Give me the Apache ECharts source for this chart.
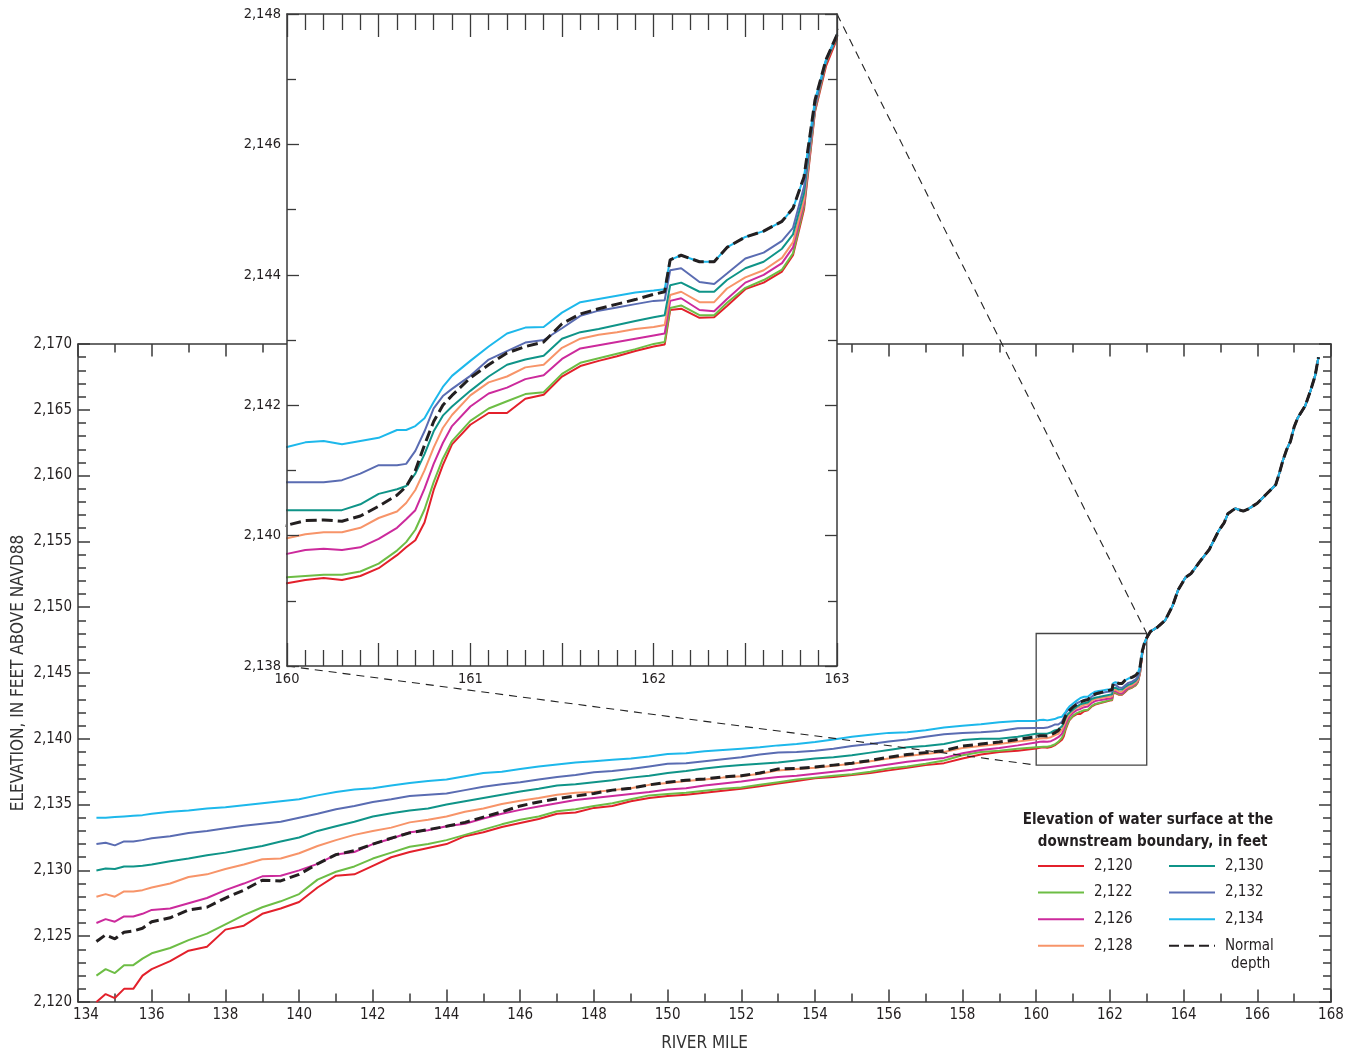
<!DOCTYPE html>
<html>
<head>
<meta charset="utf-8">
<script src="https://cdn.jsdelivr.net/npm/echarts@6/dist/echarts.min.js"></script>
<style>
html, body { margin: 0; padding: 0; background: #fff; }
#chart { width: 1358px; height: 1055px; }
</style>
</head>
<body>
<div id="chart"></div>
<script>
// River miles where the water-surface profiles are sampled (downstream reach and the detailed reach 160-163)
const milesLower = [
  134.5, 134.75, 135, 135.25, 135.5, 135.75, 136, 136.5, 137, 137.5,
  138, 138.5, 139, 139.5, 140, 140.5, 141, 141.5, 142, 142.5,
  143, 143.5, 144, 144.5, 145, 145.5, 146, 146.5, 147, 147.5,
  148, 148.5, 149, 149.5, 150, 150.5, 151, 151.5, 152, 152.5,
  153, 153.5, 154, 154.5, 155, 155.5, 156, 156.5, 157, 157.5,
  158, 158.5, 159, 159.5, 160,
  160.1, 160.2, 160.3, 160.4, 160.5, 160.6, 160.65, 160.7, 160.75, 160.8,
  160.85, 160.9, 161.0, 161.1, 161.2, 161.3, 161.4, 161.5, 161.6, 161.7,
  161.8, 161.9, 162.0, 162.06, 162.09, 162.15, 162.25, 162.33, 162.4, 162.5,
  162.6, 162.7, 162.76, 162.82, 162.88, 162.94, 163.0
];

// Water-surface elevation (feet) for each downstream boundary elevation
const elev2120 = [
  2120.0, 2120.6, 2120.3, 2121.0, 2121.0, 2122.0, 2122.5, 2123.1, 2123.9, 2124.2,
  2125.5, 2125.8, 2126.7, 2127.1, 2127.6, 2128.7, 2129.6, 2129.7, 2130.35, 2131.0,
  2131.4, 2131.7, 2132.0, 2132.6, 2132.9, 2133.3, 2133.6, 2133.9, 2134.3, 2134.4,
  2134.75, 2134.9, 2135.25, 2135.5, 2135.65, 2135.75, 2135.9, 2136.05, 2136.2, 2136.4,
  2136.6, 2136.8, 2137.0, 2137.1, 2137.25, 2137.4, 2137.6, 2137.8, 2138.0, 2138.15,
  2138.5, 2138.8, 2139.0, 2139.1, 2139.27,
  2139.32, 2139.35, 2139.32, 2139.38, 2139.5, 2139.7, 2139.82, 2139.93, 2140.2, 2140.7,
  2141.08, 2141.4, 2141.7, 2141.88, 2141.88, 2142.1, 2142.16, 2142.44, 2142.6, 2142.68,
  2142.75, 2142.83, 2142.9, 2142.93, 2143.46, 2143.48, 2143.34, 2143.35, 2143.52, 2143.78,
  2143.88, 2144.05, 2144.3, 2145.0, 2146.5, 2147.2, 2147.62
];
const elev2122 = [
  2122.0, 2122.5, 2122.2, 2122.8, 2122.8, 2123.3, 2123.7, 2124.1, 2124.7, 2125.2,
  2125.9, 2126.6, 2127.2, 2127.65, 2128.2, 2129.3, 2129.9, 2130.3, 2130.9, 2131.35,
  2131.8, 2132.0, 2132.3, 2132.7, 2133.1, 2133.5, 2133.85, 2134.1, 2134.5, 2134.65,
  2134.9, 2135.1, 2135.4, 2135.7, 2135.8, 2135.9, 2136.05, 2136.2, 2136.3, 2136.5,
  2136.7, 2136.9, 2137.05, 2137.2, 2137.3, 2137.5, 2137.75, 2137.9, 2138.1, 2138.35,
  2138.75, 2139.0, 2139.1, 2139.25, 2139.36,
  2139.38, 2139.4, 2139.4, 2139.45, 2139.57, 2139.77, 2139.9, 2140.09, 2140.4, 2140.82,
  2141.18, 2141.45, 2141.76, 2141.95, 2142.06, 2142.17, 2142.2, 2142.48, 2142.65, 2142.72,
  2142.79, 2142.86, 2142.94, 2142.97, 2143.49, 2143.53, 2143.38, 2143.38, 2143.57, 2143.8,
  2143.92, 2144.08, 2144.33, 2145.05, 2146.52, 2147.25, 2147.65
];
const elev2126 = [
  2126.0, 2126.3, 2126.1, 2126.5, 2126.5, 2126.7, 2127.0, 2127.1, 2127.5, 2127.9,
  2128.5, 2129.0, 2129.55, 2129.6, 2130.0, 2130.5, 2131.2, 2131.4, 2132.0, 2132.4,
  2132.9, 2133.05, 2133.35, 2133.55, 2133.95, 2134.3, 2134.6, 2134.85, 2135.1, 2135.35,
  2135.5, 2135.65, 2135.8, 2135.95, 2136.15, 2136.25, 2136.45, 2136.6, 2136.75, 2136.95,
  2137.1, 2137.2, 2137.35, 2137.5, 2137.65, 2137.85, 2138.05, 2138.25, 2138.4, 2138.55,
  2138.9, 2139.15, 2139.3, 2139.5, 2139.72,
  2139.78, 2139.8, 2139.78, 2139.82, 2139.95, 2140.12, 2140.25, 2140.39, 2140.72, 2141.1,
  2141.42, 2141.68, 2141.98, 2142.18, 2142.27, 2142.4, 2142.46, 2142.71, 2142.87, 2142.92,
  2142.97, 2143.02, 2143.07, 2143.1, 2143.6, 2143.64, 2143.46, 2143.44, 2143.63, 2143.88,
  2144.0, 2144.18, 2144.42, 2145.1, 2146.55, 2147.27, 2147.66
];
const elev2128 = [
  2128.0, 2128.2, 2128.0, 2128.4, 2128.4, 2128.5, 2128.7, 2129.0, 2129.5, 2129.7,
  2130.1, 2130.45, 2130.85, 2130.9, 2131.3, 2131.85, 2132.3, 2132.7, 2133.0, 2133.25,
  2133.65, 2133.85, 2134.1, 2134.45, 2134.7, 2135.05, 2135.3, 2135.5, 2135.75, 2135.9,
  2135.95, 2136.1, 2136.25, 2136.5, 2136.65, 2136.8, 2136.9, 2137.05, 2137.15, 2137.35,
  2137.6, 2137.7, 2137.8, 2137.95, 2138.1, 2138.3, 2138.5, 2138.7, 2138.85, 2139.0,
  2139.3, 2139.45, 2139.6, 2139.8, 2139.96,
  2140.02, 2140.05, 2140.05, 2140.12, 2140.27, 2140.37, 2140.5, 2140.7, 2141.0, 2141.35,
  2141.65, 2141.85, 2142.15, 2142.35, 2142.44, 2142.58, 2142.62, 2142.88, 2143.02, 2143.08,
  2143.12, 2143.17, 2143.2, 2143.23, 2143.69, 2143.74, 2143.58, 2143.58, 2143.79, 2143.96,
  2144.07, 2144.26, 2144.5, 2145.15, 2146.58, 2147.28, 2147.67
];
const elev2130 = [
  2130.0, 2130.15, 2130.1, 2130.3, 2130.3, 2130.35, 2130.45, 2130.7, 2130.9, 2131.15,
  2131.35, 2131.6, 2131.85, 2132.2, 2132.5, 2133.0, 2133.35, 2133.7, 2134.1, 2134.35,
  2134.55, 2134.7, 2135.0, 2135.25, 2135.5, 2135.75, 2136.0, 2136.2, 2136.45, 2136.55,
  2136.7, 2136.85, 2137.05, 2137.2, 2137.4, 2137.55, 2137.75, 2137.9, 2138.0, 2138.1,
  2138.2, 2138.35, 2138.5, 2138.6, 2138.75, 2138.95, 2139.15, 2139.35, 2139.45, 2139.6,
  2139.9, 2140.0, 2140.0, 2140.15, 2140.39,
  2140.39, 2140.39, 2140.39, 2140.48, 2140.64, 2140.71, 2140.76, 2140.95, 2141.25, 2141.6,
  2141.84, 2141.98, 2142.22, 2142.44, 2142.62, 2142.7, 2142.76, 2143.02, 2143.12, 2143.17,
  2143.23, 2143.29, 2143.35, 2143.38, 2143.84, 2143.88, 2143.74, 2143.74, 2143.92, 2144.1,
  2144.2, 2144.4, 2144.62, 2145.25, 2146.6, 2147.28, 2147.67
];
const elev2132 = [
  2132.0, 2132.1, 2131.9, 2132.2, 2132.2, 2132.3, 2132.45, 2132.6, 2132.85, 2133.0,
  2133.2, 2133.4, 2133.55, 2133.7, 2134.0, 2134.3, 2134.65, 2134.9, 2135.2, 2135.4,
  2135.65, 2135.75, 2135.85, 2136.1, 2136.35, 2136.55, 2136.7, 2136.9, 2137.1, 2137.25,
  2137.45, 2137.55, 2137.7, 2137.9, 2138.1, 2138.15, 2138.3, 2138.45, 2138.6, 2138.8,
  2138.95, 2139.0, 2139.1, 2139.25, 2139.45, 2139.6, 2139.8, 2139.95, 2140.15, 2140.35,
  2140.45, 2140.5, 2140.6, 2140.8, 2140.82,
  2140.82, 2140.82, 2140.85, 2140.95, 2141.08, 2141.08, 2141.1, 2141.3, 2141.6, 2141.95,
  2142.14, 2142.25, 2142.45, 2142.7, 2142.83, 2142.96, 2143.0, 2143.18, 2143.37, 2143.45,
  2143.5, 2143.55, 2143.6, 2143.61, 2144.07, 2144.1, 2143.89, 2143.86, 2144.02, 2144.25,
  2144.34, 2144.52, 2144.72, 2145.35, 2146.62, 2147.29, 2147.68
];
const elev2134 = [
  2134.0, 2134.0, 2134.05, 2134.1, 2134.15, 2134.2, 2134.3, 2134.45, 2134.55, 2134.7,
  2134.8, 2134.95, 2135.1, 2135.25, 2135.4, 2135.7, 2135.95, 2136.15, 2136.25, 2136.45,
  2136.65, 2136.8, 2136.9, 2137.15, 2137.4, 2137.5, 2137.7, 2137.9, 2138.05, 2138.2,
  2138.3, 2138.4, 2138.5, 2138.65, 2138.85, 2138.9, 2139.05, 2139.15, 2139.25, 2139.35,
  2139.5, 2139.6, 2139.75, 2139.95, 2140.15, 2140.3, 2140.45, 2140.5, 2140.65, 2140.85,
  2141.0, 2141.1, 2141.25, 2141.35, 2141.36,
  2141.43, 2141.45, 2141.4, 2141.45, 2141.5, 2141.62, 2141.62, 2141.68, 2141.8, 2142.05,
  2142.28, 2142.45, 2142.68, 2142.9, 2143.1, 2143.19, 2143.2, 2143.42, 2143.58, 2143.63,
  2143.68, 2143.73, 2143.76, 2143.78, 2144.23, 2144.3, 2144.2, 2144.2, 2144.42, 2144.58,
  2144.67, 2144.82, 2145.02, 2145.5, 2146.68, 2147.3, 2147.68
];
const elevNormal = [
  2124.6, 2125.1, 2124.8, 2125.3, 2125.4, 2125.6, 2126.1, 2126.4, 2127.0, 2127.2,
  2127.9, 2128.5, 2129.25, 2129.2, 2129.7, 2130.5, 2131.2, 2131.5, 2132.0, 2132.45,
  2132.85, 2133.1, 2133.35, 2133.65, 2134.05, 2134.45, 2134.9, 2135.2, 2135.45, 2135.65,
  2135.85, 2136.1, 2136.25, 2136.5, 2136.7, 2136.85, 2136.95, 2137.1, 2137.2, 2137.4,
  2137.7, 2137.75, 2137.85, 2138.0, 2138.15, 2138.35, 2138.6, 2138.8, 2138.95, 2139.1,
  2139.45, 2139.6, 2139.75, 2139.95, 2140.16,
  2140.23, 2140.24, 2140.22, 2140.3, 2140.45, 2140.62, 2140.75, 2141.0, 2141.39, 2141.75,
  2142.0, 2142.15, 2142.42, 2142.62, 2142.8, 2142.9, 2142.97, 2143.25, 2143.4, 2143.48,
  2143.55, 2143.62, 2143.7, 2143.74, 2144.23, 2144.3, 2144.2, 2144.2, 2144.42, 2144.58,
  2144.67, 2144.82, 2145.02, 2145.5, 2146.68, 2147.3, 2147.68
];

// Upstream of mile 163 every profile follows the same water surface
const milesUpper = [
  163.1, 163.3, 163.5, 163.7, 163.85, 164.05, 164.2, 164.45, 164.7, 164.95,
  165.1, 165.2, 165.4, 165.62, 165.75, 166.0, 166.25, 166.5, 166.6, 166.7,
  166.8, 166.9, 167.0, 167.1, 167.3, 167.45, 167.57, 167.66
];
const elevUpper = [
  2148.15, 2148.5, 2149.0, 2150.1, 2151.3, 2152.25, 2152.55, 2153.5, 2154.4, 2155.8,
  2156.4, 2157.1, 2157.5, 2157.3, 2157.45, 2157.9, 2158.6, 2159.3, 2160.2, 2161.2,
  2162.0, 2162.6, 2163.7, 2164.4, 2165.3, 2166.5, 2167.6, 2169.0
];

const seriesNames = ['2,120', '2,122', '2,126', '2,128', '2,130', '2,132', '2,134', 'Normal depth'];
const seriesValues = [elev2120, elev2122, elev2126, elev2128, elev2130, elev2132, elev2134, elevNormal];
const seriesColors = ['#e3202b', '#6dbd45', '#cc2a9c', '#f79469', '#0f9488', '#5a6cb2', '#1db8eb', '#231f20'];

// Reach shown enlarged in the inset
const insetMiles = [160, 163];
const insetElev = [2138, 2148];

const FONT = '"Liberation Sans Narrow", "Arial Narrow", "DejaVu Sans Condensed", sans-serif';
const INK = '#231f20';
const AXIS = '#3a3a3a';

function withComma(v) {
  return String(v).replace(/\B(?=(\d{3})+(?!\d))/g, ',');
}

function profile(values) {
  const pts = milesLower.map((m, i) => [m, values[i]]);
  return pts.concat(milesUpper.map((m, i) => [m, elevUpper[i]]));
}

function axisLine() {
  return { show: true, onZero: false, lineStyle: { color: AXIS, width: 1.5 } };
}

function axisDef(gridIndex, position, opts) {
  return Object.assign({
    type: 'value',
    gridIndex: gridIndex,
    position: position,
    axisLine: axisLine(),
    splitLine: { show: false },
    minorSplitLine: { show: false },
    z: gridIndex === 1 ? 12 : 1
  }, opts);
}

const labelText = { color: INK, fontFamily: FONT, fontSize: 15 };
const insetLabelText = { color: INK, fontFamily: FONT, fontSize: 14.5 };
const nameText = { color: '#333', fontFamily: FONT, fontSize: 17 };

const xAxes = [
  // main chart, bottom
  axisDef(0, 'bottom', {
    min: 134, max: 168, interval: 2,
    axisTick: { show: true, inside: true, length: 12.5, lineStyle: { color: AXIS, width: 1.5 } },
    minorTick: { show: true, splitNumber: 2, length: 8.5, lineStyle: { color: AXIS, width: 1.5 } },
    axisLabel: Object.assign({
      margin: 6, showMinLabel: true, showMaxLabel: true,
      formatter: v => (v === 134 ? '{first|134}' : String(v)),
      rich: { first: { padding: [0, 0, 0, 16], fontFamily: FONT, fontSize: 15, color: INK } }
    }, labelText),
    name: 'RIVER MILE', nameLocation: 'middle', nameGap: 33, nameMoveOverlap: false,
    nameTextStyle: nameText
  }),
  // main chart, top
  axisDef(0, 'top', {
    min: 134, max: 168, interval: 2,
    axisTick: { show: true, inside: true, length: 12.5, lineStyle: { color: AXIS, width: 1.5 } },
    minorTick: { show: true, splitNumber: 2, length: 8.5, lineStyle: { color: AXIS, width: 1.5 } },
    axisLabel: { show: false }
  }),
  // inset, bottom
  axisDef(1, 'bottom', {
    min: insetMiles[0], max: insetMiles[1], interval: 0.5,
    axisTick: { show: true, inside: true, length: 23, lineStyle: { color: AXIS, width: 1.3 } },
    minorTick: { show: true, splitNumber: 5, length: 16, lineStyle: { color: AXIS, width: 1.3 } },
    axisLabel: Object.assign({
      margin: 6, showMinLabel: true, showMaxLabel: true,
      formatter: v => (Math.abs(v - Math.round(v)) < 1e-6 ? String(Math.round(v)) : '')
    }, insetLabelText)
  }),
  // inset, top
  axisDef(1, 'top', {
    min: insetMiles[0], max: insetMiles[1], interval: 0.5,
    axisTick: { show: true, inside: true, length: 23, lineStyle: { color: AXIS, width: 1.3 } },
    minorTick: { show: true, splitNumber: 5, length: 16, lineStyle: { color: AXIS, width: 1.3 } },
    axisLabel: { show: false }
  })
];

const yAxes = [
  // main chart, left
  axisDef(0, 'left', {
    min: 2120, max: 2170, interval: 5,
    axisTick: { show: true, inside: true, length: 12, lineStyle: { color: AXIS, width: 1.5 } },
    minorTick: { show: true, splitNumber: 5, length: 8, lineStyle: { color: AXIS, width: 1.5 } },
    axisLabel: Object.assign({ margin: 6, showMinLabel: true, showMaxLabel: true, formatter: withComma }, labelText),
    name: 'ELEVATION, IN FEET ABOVE NAVD88', nameLocation: 'middle', nameGap: 51, nameMoveOverlap: false,
    nameTextStyle: nameText
  }),
  // main chart, right
  axisDef(0, 'right', {
    min: 2120, max: 2170, interval: 5,
    axisTick: { show: true, inside: true, length: 12, lineStyle: { color: AXIS, width: 1.5 } },
    minorTick: { show: true, splitNumber: 5, length: 8, lineStyle: { color: AXIS, width: 1.5 } },
    axisLabel: { show: false }
  }),
  // inset, left
  axisDef(1, 'left', {
    min: insetElev[0], max: insetElev[1], interval: 2,
    axisTick: { show: true, inside: true, length: 12, lineStyle: { color: AXIS, width: 1.3 } },
    minorTick: { show: true, splitNumber: 2, length: 9, lineStyle: { color: AXIS, width: 1.3 } },
    axisLabel: Object.assign({ margin: 6, showMinLabel: true, showMaxLabel: true, formatter: withComma }, insetLabelText)
  }),
  // inset, right
  axisDef(1, 'right', {
    min: insetElev[0], max: insetElev[1], interval: 2,
    axisTick: { show: true, inside: true, length: 12, lineStyle: { color: AXIS, width: 1.3 } },
    minorTick: { show: true, splitNumber: 2, length: 9, lineStyle: { color: AXIS, width: 1.3 } },
    axisLabel: { show: false }
  })
];

const series = [];
seriesNames.forEach((name, k) => {
  const dashed = name === 'Normal depth';
  const data = profile(seriesValues[k]);
  const main = {
    type: 'line', name: name, xAxisIndex: 0, yAxisIndex: 0,
    data: data, symbol: 'none', smooth: false, clip: true, z: 2 + k * 0.01,
    lineStyle: dashed ? { color: seriesColors[k], width: 3, type: [10, 5] }
                      : { color: seriesColors[k], width: 2 },
    itemStyle: { color: seriesColors[k] },
    emphasis: { disabled: true }
  };
  if (dashed) {
    // outline of the enlarged reach
    main.markArea = {
      silent: true,
      itemStyle: { color: 'rgba(0,0,0,0)', borderColor: '#444', borderWidth: 1.3 },
      data: [[{ xAxis: insetMiles[0], yAxis: insetElev[0] }, { xAxis: insetMiles[1], yAxis: insetElev[1] }]]
    };
  }
  series.push(main);
  series.push({
    type: 'line', name: name, xAxisIndex: 2, yAxisIndex: 2,
    data: data.filter(p => p[0] >= 159.5 && p[0] <= 163.3),
    symbol: 'none', smooth: false, clip: true, z: 11 + k * 0.01,
    lineStyle: dashed ? { color: seriesColors[k], width: 3, type: [11, 5] }
                      : { color: seriesColors[k], width: 2 },
    itemStyle: { color: seriesColors[k] },
    emphasis: { disabled: true }
  });
});

const legendBase = {
  orient: 'vertical', top: 858, padding: 0,
  itemWidth: 46, itemHeight: 16, itemGap: 10.6,
  selectedMode: false,
  itemStyle: { opacity: 0, borderWidth: 0 },
  textStyle: { color: INK, fontFamily: FONT, fontSize: 15, lineHeight: 16, padding: [0, 0, 0, 5] }
};

const option = {
  animation: false,
  backgroundColor: '#fff',
  grid: [
    { left: 78, top: 344, width: 1253, height: 658, show: false, outerBoundsMode: 'none', containLabel: false },
    { left: 287, top: 14, width: 550, height: 652, show: true, backgroundColor: '#fff', borderWidth: 0, z: 10,
      outerBoundsMode: 'none', containLabel: false }
  ],
  xAxis: xAxes,
  yAxis: yAxes,
  legend: [
    Object.assign({}, legendBase, { left: 1037, data: seriesNames.slice(0, 4) }),
    Object.assign({}, legendBase, {
      left: 1168,
      data: seriesNames.slice(4),
      formatter: n => (n === 'Normal depth' ? 'Normal' : n)
    })
  ],
  graphic: [{
    id: 'legendTitle', type: 'text', x: 1148, y: 809, z: 20,
    style: {
      text: 'Elevation of water surface at the\n  downstream boundary, in feet',
      align: 'center', verticalAlign: 'top',
      fontFamily: FONT, fontSize: 15, fontWeight: 'bold', lineHeight: 22, fill: INK
    }
  }, {
    // second line of the "Normal depth" legend entry
    id: 'legendDepth', type: 'text', x: 1231, y: 957, z: 20,
    style: { text: 'depth', fontFamily: FONT, fontSize: 15, fill: INK, verticalAlign: 'top' }
  }],
  series: series
};

const chart = echarts.init(document.getElementById('chart'), null, { renderer: 'canvas' });
chart.setOption(option);

// dashed leader lines joining the inset frame to the outlined reach
const insetTopRight = chart.convertToPixel({ gridIndex: 1 }, [insetMiles[1], insetElev[1]]);
const reachTopRight = chart.convertToPixel({ gridIndex: 0 }, [insetMiles[1], insetElev[1]]);
const insetBottomLeft = chart.convertToPixel({ gridIndex: 1 }, [insetMiles[0], insetElev[0]]);
const reachBottomLeft = chart.convertToPixel({ gridIndex: 0 }, [insetMiles[0], insetElev[0]]);
const leader = { stroke: '#222', lineWidth: 1.1, lineDash: [8, 6] };
chart.setOption({
  graphic: [
    { id: 'leaderTop', type: 'line', z: 5, silent: true,
      shape: { x1: insetTopRight[0], y1: insetTopRight[1], x2: reachTopRight[0], y2: reachTopRight[1] },
      style: leader },
    { id: 'leaderBottom', type: 'line', z: 5, silent: true,
      shape: { x1: insetBottomLeft[0], y1: insetBottomLeft[1], x2: reachBottomLeft[0], y2: reachBottomLeft[1] },
      style: leader }
  ]
});
</script>
</body>
</html>
